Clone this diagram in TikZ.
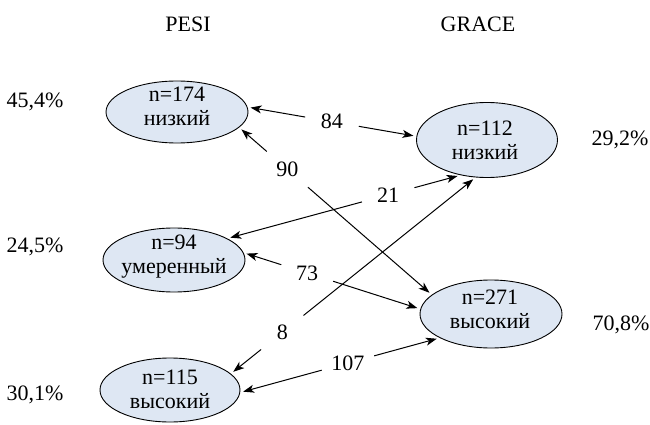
\documentclass[tikz,border=0pt]{standalone}
\usepackage{fontspec}
\setmainfont{Liberation Serif}
\usetikzlibrary{arrows.meta,shapes.geometric}
\definecolor{bubfill}{RGB}{222,231,243}
\begin{document}
\begin{tikzpicture}[x=1pt,y=-1pt,
  bub/.style={ellipse,draw=black,line width=0.9pt,fill=bubfill,inner sep=0pt},
  txt/.style={font=\fontsize{22}{24}\selectfont,align=center,inner sep=0pt,anchor=base},
  pct/.style={font=\fontsize{22}{24}\selectfont,inner sep=0pt,anchor=base},
  lbl/.style={circle,minimum size=54pt,inner sep=0pt,font=\fontsize{22}{24}\selectfont},
  arr/.style={-{Stealth[length=11pt,width=8pt,inset=3pt]},line width=1pt,shorten >=3pt}
]
\useasboundingbox (0,0) rectangle (650,425);

% headers
\node[pct] (hp) at (188,32) {PESI};
\node[pct] (hg) at (478,32) {GRACE};

% ellipses
\node[bub,minimum width=142pt,minimum height=62pt] (e1) at (177,112) {};
\node[bub,minimum width=142pt,minimum height=64pt] (e2) at (174,260) {};
\node[bub,minimum width=140pt,minimum height=64pt] (e3) at (170,390) {};
\node[bub,minimum width=141pt,minimum height=75pt] (g1) at (487,140) {};
\node[bub,minimum width=142pt,minimum height=68pt] (g2) at (491,314) {};

% ellipse texts (anchored at the baseline of the last line)
\node[txt] (e1t) at (177,125) {n=174\\низкий};
\node[txt] (e2t) at (174,273) {n=94\\умеренный};
\node[txt] (e3t) at (170,408) {n=115\\высокий};
\node[txt] (g1t) at (485,159) {n=112\\низкий};
\node[txt] (g2t) at (490,328) {n=271\\высокий};

% percentages
\node[pct] (p1) at (35,107) {45,4\%};
\node[pct] (p2) at (35,252) {24,5\%};
\node[pct] (p3) at (35,400) {30,1\%};
\node[pct] (p4) at (620,145) {29,2\%};
\node[pct] (p5) at (621,330) {70,8\%};

% label nodes on the connectors
\path (e1.4) -- (g1.177) node[lbl,pos=0.5] (l84) {84};
\path (e1.-14) -- (g2.162) node[lbl,pos=0.25] (l90) {90};
\path (e2.22) -- (g1.233) node[lbl,pos=0.69] (l21) {21};
\path (e2.6) -- (g2.176) node[lbl,pos=0.36] (l73) {73};
\path (e3.15) -- (g1.253) node[lbl,pos=0.21] (l8) {8};
\path (e3.-2) -- (g2.205) node[lbl,pos=0.54] (l107) {107};

% connectors
\draw[arr] (l84) -- (e1.4);
\draw[arr] (l84) -- (g1.177);
\draw[arr] (l90) -- (e1.-14);
\draw[arr] (l90) -- (g2.162);
\draw[arr] (l21) -- (e2.22);
\draw[arr] (l21) -- (g1.233);
\draw[arr] (l73) -- (e2.6);
\draw[arr] (l73) -- (g2.176);
\draw[arr] (l8) -- (e3.15);
\draw[arr] (l8) -- (g1.253);
\draw[arr] (l107) -- (e3.-2);
\draw[arr] (l107) -- (g2.205);
\end{tikzpicture}
\end{document}
